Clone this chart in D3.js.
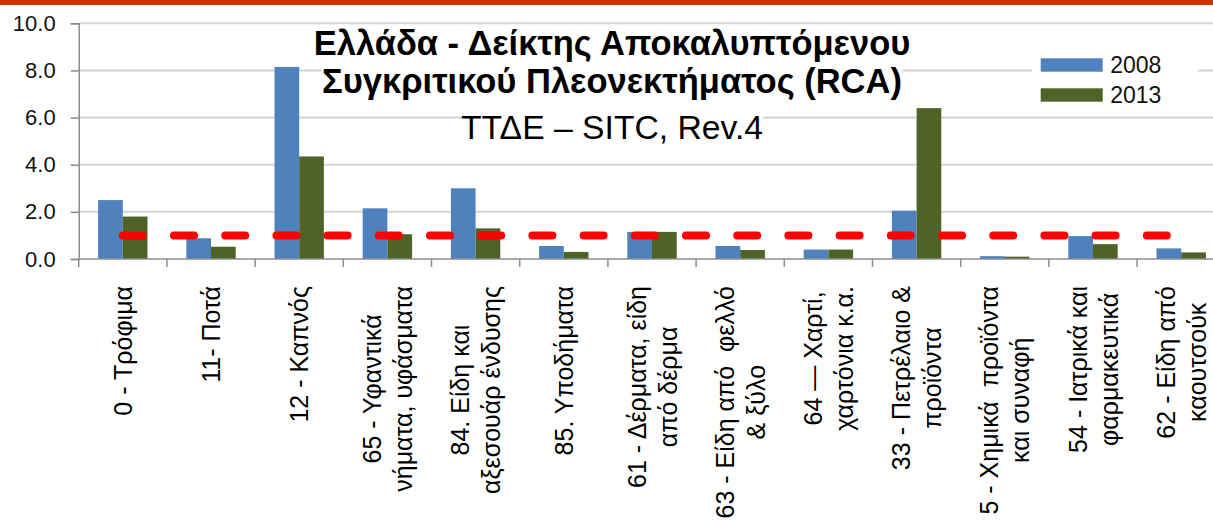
<!DOCTYPE html>
<html>
<head>
<meta charset="utf-8">
<script src="https://cdn.jsdelivr.net/npm/d3@7"></script>
<style>
html, body { margin: 0; padding: 0; background: #fff; }
svg { display: block; font-family: "Liberation Sans", Arial, sans-serif; }
.cat { white-space: pre; }
</style>
</head>
<body>
<svg id="chart"></svg>
<script>
var CATEGORIES = [
    ["0 - Τρόφιμα"],
    ["11- Ποτά"],
    ["12 - Καπνός"],
    ["65 - Υφαντικά", "νήματα, υφάσματα"],
    ["84. Είδη και", "αξεσουάρ ένδυσης"],
    ["85. Υποδήματα"],
    ["61 - Δέρματα, είδη", "από δέρμα"],
    ["63 - Είδη από  φελλό", "& ξύλο"],
    ["64 — Χαρτί,", "χαρτόνια κ.α."],
    ["33 - Πετρέλαιο &", "προϊόντα"],
    ["5 - Χημικά  προϊόντα", "και συναφή"],
    ["54 - Ιατρικά και", "φαρμακευτικά"],
    ["62 - Είδη από", "καουτσούκ"]
];
var SERIES = ["2008", "2013"];
var V2008 = [2.5, 0.88, 8.15, 2.15, 3.0, 0.55, 1.15, 0.55, 0.4, 2.05, 0.12, 0.97, 0.45];
var V2013 = [1.8, 0.52, 4.35, 1.05, 1.3, 0.3, 1.15, 0.38, 0.4, 6.4, 0.1, 0.63, 0.28];
var THRESHOLD = 1.0;
var YTICKS = [0, 2, 4, 6, 8, 10];
var TITLE = ["Ελλάδα - Δείκτης Αποκαλυπτόμενου", "Συγκριτικού Πλεονεκτήματος (RCA)", "ΤΤΔΕ – SITC, Rev.4"];

(function() {
"use strict";

var COLORS = {"2008": "#4f81bd", "2013": "#4f6228"};

var W = 1213, H = 524;
var mleft = 78.7, mtop = 23.3, mbottom = 259, band = 88.2;

var svg = d3.select("#chart").attr("width", W).attr("height", H);

svg.append("rect").attr("x", 0).attr("y", 0).attr("width", W).attr("height", 5).attr("fill", "#cc3300");

var x = d3.scaleBand()
    .domain(d3.range(CATEGORIES.length))
    .range([mleft, mleft + band * CATEGORIES.length])
    .padding(0);
var x1 = d3.scaleBand()
    .domain(SERIES)
    .range([x.bandwidth() * 0.22, x.bandwidth() * 0.78]);
var y = d3.scaleLinear().domain([0, 10]).range([mbottom, mtop]);

// gridlines
svg.append("g").selectAll("line")
    .data(YTICKS.slice(1))
    .enter().append("line")
        .attr("x1", mleft).attr("x2", W)
        .attr("y1", function(d) { return y(d); })
        .attr("y2", function(d) { return y(d); })
        .attr("stroke", "#d4d4d4")
        .attr("stroke-width", 2);

// y axis
var gy = svg.append("g")
    .attr("transform", "translate(" + mleft + ",0)")
    .call(d3.axisLeft(y).tickValues(YTICKS).tickFormat(d3.format(".1f")).tickSize(8).tickPadding(15));
gy.select(".domain").attr("stroke", "#8c8c8c").attr("stroke-width", 1.5);
gy.selectAll(".tick line").attr("stroke", "#8c8c8c").attr("stroke-width", 1.5);
gy.selectAll(".tick text")
    .attr("font-size", 22)
    .attr("font-family", "Liberation Sans, Arial, sans-serif")
    .attr("fill", "#111");

// bars
var rows = CATEGORIES.map(function(c, i) { return {i: i, "2008": V2008[i], "2013": V2013[i]}; });
var gbars = svg.append("g");
SERIES.forEach(function(s) {
    gbars.selectAll(".bar" + s)
        .data(rows)
        .enter().append("rect")
            .attr("x", function(d) { return x(d.i) + x1(s); })
            .attr("width", x1.bandwidth())
            .attr("y", function(d) { return y(d[s]); })
            .attr("height", function(d) { return y(0) - y(d[s]); })
            .attr("fill", COLORS[s]);
});

// x axis
svg.append("line")
    .attr("x1", mleft).attr("x2", W)
    .attr("y1", mbottom).attr("y2", mbottom)
    .attr("stroke", "#8c8c8c").attr("stroke-width", 1.5);
svg.append("g").selectAll("line")
    .data(CATEGORIES)
    .enter().append("line")
        .attr("x1", function(d, i) { return x(i); })
        .attr("x2", function(d, i) { return x(i); })
        .attr("y1", mbottom).attr("y2", mbottom + 8)
        .attr("stroke", "#8c8c8c").attr("stroke-width", 1.5);

// threshold line
svg.append("path")
    .datum(rows)
    .attr("fill", "none")
    .attr("stroke", "#ff0000")
    .attr("stroke-width", 8)
    .attr("stroke-linecap", "round")
    .attr("stroke-dasharray", "20,31.2")
    .attr("d", d3.line()
        .x(function(d) { return x(d.i) + x.bandwidth() / 2; })
        .y(function() { return y(THRESHOLD); }));

// category labels
var LTOP = 286, LGAP = 31;
CATEGORIES.forEach(function(lines, i) {
    var g = svg.append("g");
    var cx = x(i) + x.bandwidth() / 2;
    var texts = g.selectAll("text")
        .data(lines)
        .enter().append("text")
            .attr("class", "cat")
            .attr("font-size", 25)
            .attr("fill", "#000")
            .attr("text-anchor", "middle")
            .attr("dominant-baseline", "central")
            .text(function(d) { return d; });
    var maxlen = d3.max(texts.nodes(), function(n) { return n.getComputedTextLength(); });
    texts.attr("transform", function(d, j) {
        var tx = cx + (j - (lines.length - 1) / 2) * LGAP;
        return "translate(" + tx + "," + (LTOP + maxlen / 2) + ") rotate(-90)";
    });
});

// title
var gt = svg.append("g");
var tsizes = [34.5, 34.5, 33.7];
var tbase = [55, 93, 139];
TITLE.forEach(function(t, i) {
    var txt = gt.append("text")
        .attr("x", 612)
        .attr("y", tbase[i])
        .attr("text-anchor", "middle")
        .attr("font-size", tsizes[i])
        .attr("font-weight", i < 2 ? "bold" : "normal")
        .attr("fill", "#000")
        .text(t);
    var bb = txt.node().getBBox();
    gt.insert("rect", "text")
        .attr("x", bb.x).attr("y", bb.y + 3)
        .attr("width", bb.width).attr("height", bb.height - 6)
        .attr("fill", "#fff");
});

// legend
var gl = svg.append("g");
gl.append("rect").attr("x", 1032).attr("y", 50).attr("width", 166).attr("height", 58).attr("fill", "#fff");
var li = gl.selectAll(".li")
    .data(SERIES)
    .enter().append("g")
        .attr("transform", function(d, i) { return "translate(1040.7," + (58.3 + i * 30) + ")"; });
li.append("rect")
    .attr("width", 62).attr("height", 13.4)
    .attr("fill", function(d) { return COLORS[d]; });
li.append("text")
    .attr("x", 69.5).attr("y", 15)
    .attr("font-size", 23)
    .attr("fill", "#111")
    .text(function(d) { return d; });
}());
</script>
</body>
</html>
